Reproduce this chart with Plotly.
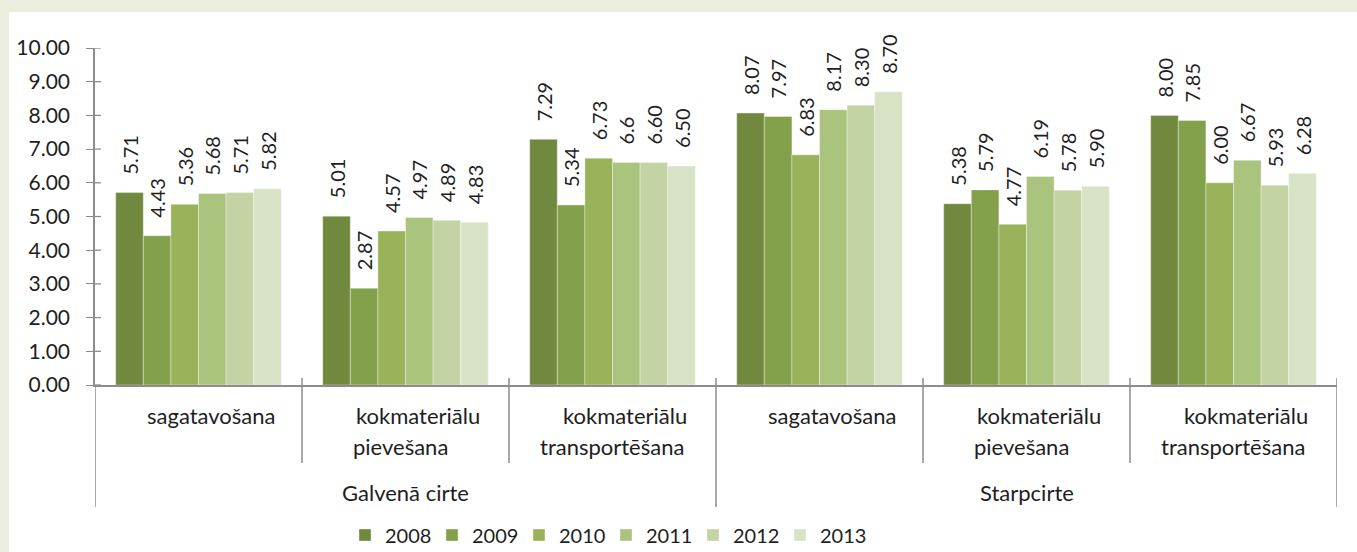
import plotly.graph_objects as go

# ---------------- data ----------------
groups = ["Galvenā cirte", "Starpcirte"]
operations = [["sagatavošana"], ["kokmateriālu", "pievešana"], ["kokmateriālu", "transportēšana"]]
categories = [f"{g} | {' '.join(op)}" for g in groups for op in operations]

years = ["2008", "2009", "2010", "2011", "2012", "2013"]
values_2008 = [5.71, 5.01, 7.29, 8.07, 5.38, 8.00]
values_2009 = [4.43, 2.87, 5.34, 7.97, 5.79, 7.85]
values_2010 = [5.36, 4.57, 6.73, 6.83, 4.77, 6.00]
values_2011 = [5.68, 4.97, 6.6, 8.17, 6.19, 6.67]
values_2012 = [5.71, 4.89, 6.60, 8.30, 5.78, 5.93]
values_2013 = [5.82, 4.83, 6.50, 8.70, 5.90, 6.28]
labels_2008 = ["5.71", "5.01", "7.29", "8.07", "5.38", "8.00"]
labels_2009 = ["4.43", "2.87", "5.34", "7.97", "5.79", "7.85"]
labels_2010 = ["5.36", "4.57", "6.73", "6.83", "4.77", "6.00"]
labels_2011 = ["5.68", "4.97", "6.6", "8.17", "6.19", "6.67"]
labels_2012 = ["5.71", "4.89", "6.60", "8.30", "5.78", "5.93"]
labels_2013 = ["5.82", "4.83", "6.50", "8.70", "5.90", "6.28"]

series_values = [values_2008, values_2009, values_2010, values_2011, values_2012, values_2013]
series_labels = [labels_2008, labels_2009, labels_2010, labels_2011, labels_2012, labels_2013]
tick_values = [0, 1, 2, 3, 4, 5, 6, 7, 8, 9, 10]
tick_labels = ["0.00", "1.00", "2.00", "3.00", "4.00", "5.00", "6.00", "7.00", "8.00", "9.00", "10.00"]

# ---------------- style ----------------
colors = ["#71893F", "#83A04B", "#98B35A", "#ABC47D", "#C3D3A3", "#D8E3C6"]
FONT = "Lato, 'Open Sans', sans-serif"
TXT = "#1E1E1E"
AXC = "#8C8C8C"
BEIGE = "#EBEEDF"
W, H = 1357, 552
L, R, T, B = 95, 20, 48, 167
pw, ph = W - L - R, H - T - B


def px_to_paper_x(px):
    return (px - L) / pw


def px_to_paper_y(py):
    return (H - B - py) / ph


fig = go.Figure()
for yr, vals, labs, col in zip(years, series_values, series_labels, colors):
    fig.add_trace(go.Bar(
        name=yr, x=categories, y=vals, text=labs,
        texttemplate="\u2002\u2005%{text}",
        textposition="outside", textangle=-90, constraintext="none",
        textfont=dict(family=FONT, size=20, color=TXT),
        marker=dict(color=col, line=dict(color="rgba(255,255,255,0.6)", width=0.6)),
        cliponaxis=False, hoverinfo="skip",
    ))

shapes = []
# beige frame strips (left and top)
shapes.append(dict(type="rect", xref="paper", yref="paper", layer="below",
                   x0=px_to_paper_x(-5), x1=px_to_paper_x(9),
                   y0=px_to_paper_y(H + 5), y1=px_to_paper_y(-5),
                   fillcolor=BEIGE, line=dict(width=0)))
shapes.append(dict(type="rect", xref="paper", yref="paper", layer="below",
                   x0=px_to_paper_x(-5), x1=px_to_paper_x(W + 5),
                   y0=px_to_paper_y(12), y1=px_to_paper_y(-5),
                   fillcolor=BEIGE, line=dict(width=0)))
# inner part of the y ticks (cross style)
for tv in tick_values:
    shapes.append(dict(type="line", xref="paper", yref="y",
                       x0=0, x1=px_to_paper_x(101), y0=tv, y1=tv,
                       line=dict(color=AXC, width=1.3)))
# category dividers
n = len(categories)
for i in range(n + 1):
    outer = (i % len(operations) == 0)
    yb = 507 if outer else 463
    shapes.append(dict(type="line", xref="x", yref="paper",
                       x0=i - 0.5, x1=i - 0.5,
                       y0=0 if i == 0 else px_to_paper_y(378), y1=px_to_paper_y(yb),
                       line=dict(color=AXC, width=1.5)))

annotations = []
first_shift = 12
second_shift = {"pievešana": -5, "transportēšana": -1}
LBL = 22
for gi, g in enumerate(groups):
    for oi, op in enumerate(operations):
        idx = gi * len(operations) + oi
        annotations.append(dict(x=idx, y=px_to_paper_y(415), xref="x", yref="paper",
                                text=op[0], showarrow=False, xshift=first_shift,
                                font=dict(family=FONT, size=LBL, color=TXT),
                                xanchor="center", yanchor="middle"))
        if len(op) > 1:
            annotations.append(dict(x=idx, y=px_to_paper_y(447), xref="x", yref="paper",
                                    text=op[1], showarrow=False, xshift=second_shift.get(op[1], 0),
                                    font=dict(family=FONT, size=LBL, color=TXT),
                                    xanchor="center", yanchor="middle"))
    mid = gi * len(operations) + (len(operations) - 1) / 2
    annotations.append(dict(x=mid, y=px_to_paper_y(492), xref="x", yref="paper",
                            text=g, showarrow=False,
                            font=dict(family=FONT, size=LBL, color=TXT),
                            xanchor="center", yanchor="middle"))

fig.update_layout(
    width=W, height=H,
    margin=dict(l=L, r=R, t=T, b=B, autoexpand=False),
    paper_bgcolor="white",
    plot_bgcolor="white",
    barmode="group", bargap=0.2, bargroupgap=0,
    showlegend=True,
    legend=dict(orientation="h", x=px_to_paper_x(345), xanchor="left",
                y=px_to_paper_y(535), yanchor="middle",
                entrywidth=42, entrywidthmode="pixels",
                font=dict(family=FONT, size=20, color=TXT),
                bgcolor="rgba(0,0,0,0)", itemclick=False),
    xaxis=dict(type="category", showticklabels=False, ticks="",
               showline=True, linecolor=AXC, linewidth=1.5,
               showgrid=False, zeroline=False, range=[-0.5, n - 0.5]),
    yaxis=dict(range=[0, 10], tickvals=tick_values, ticktext=tick_labels,
               ticks="outside", ticklen=7, tickcolor=AXC, tickwidth=1.3,
               showline=True, linecolor=AXC, linewidth=1.5,
               showgrid=False, zeroline=False, ticklabelstandoff=12,
               tickfont=dict(family=FONT, size=21, color=TXT)),
    shapes=shapes,
    annotations=annotations,
)

fig.write_html("out.html", config={"displayModeBar": False},
               post_script="document.body.style.margin='0';")
